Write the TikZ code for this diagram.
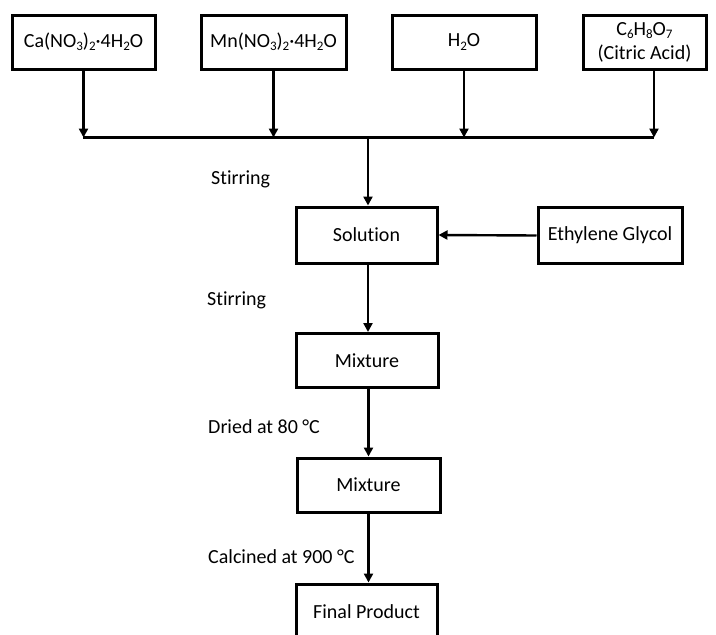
\documentclass[tikz,border=0pt]{standalone}
\usepackage{fontspec}
\setmainfont[Ligatures=NoCommon]{Carlito}
\usetikzlibrary{arrows.meta}
\newcommand{\chsub}[1]{\raisebox{-0.35ex}{\fontsize{13}{13}\selectfont #1}}
\begin{document}
\begin{tikzpicture}[x=1pt,y=-1pt,
  box/.style={draw,line width=3pt,rectangle,minimum height=54pt,inner sep=0pt,align=center,font=\fontsize{20}{24}\selectfont},
  lbl/.style={anchor=west,inner sep=0pt,font=\fontsize{20}{24}\selectfont},
  conn/.style={line width=2.4pt},
  arr/.style={line width=2.4pt,-{Triangle[length=9pt,width=9pt]}}]
\clip (0,0) rectangle (716,635);
\useasboundingbox (0,0) rectangle (716,635);
\node[box,minimum width=143pt] (ca) at (83.5,42) {Ca(NO\chsub{3})\chsub{2}·4H\chsub{2}O};
\node[box,minimum width=145pt] (mn) at (273.5,42) {Mn(NO\chsub{3})\chsub{2}·4H\chsub{2}O};
\node[box,minimum width=144pt] (wa) at (464,42) {H\chsub{2}O};
\node[box,minimum width=123pt] (ci) at (644.5,42) {C\chsub{6}H\chsub{8}O\chsub{7}\\(Citric Acid)};
\node[box,minimum width=141pt,minimum height=56pt] (so) at (366.5,235) {Solution};
\node[box,minimum width=144pt,minimum height=56pt] (eg) at (610,235.5) {Ethylene Glycol};
\node[box,minimum width=142pt] (m1) at (367,360.5) {Mixture};
\node[box,minimum width=143pt] (m2) at (368.5,485) {Mixture};
\node[box,minimum width=141pt,minimum height=56pt] (fp) at (366.5,612) {Final Product};
\coordinate (hl) at (83,137.5);
\coordinate (hr) at (654,137.5);
\coordinate (ciout) at (654,70);
\coordinate (hm) at (368,137.5);
\draw[conn] (hl) -- (hr);
\draw[arr] (ca.south) -- (ca.south |- hl);
\draw[arr] (mn.south) -- (mn.south |- hl);
\draw[arr] (wa.south) -- (wa.south |- hl);
\draw[arr] (ciout) -- (hr);
\draw[arr] (hm) -- (hm |- so.north);
\draw[arr] (eg.west) -- (so.east);
\draw[arr] (so.south -| hm) -- (hm |- m1.north);
\draw[arr] (m1.south -| m2) -- (m2.north);
\draw[arr] (m2.south) -- (m2.south |- fp.north);
\node[lbl] (s1) at (211,179) {Stirring};
\node[lbl] (s2) at (207,300) {Stirring};
\node[lbl] (d1) at (208,427) {Dried at 80 °C};
\node[lbl] (c1) at (208,557) {Calcined at 900 °C};
\end{tikzpicture}
\end{document}
